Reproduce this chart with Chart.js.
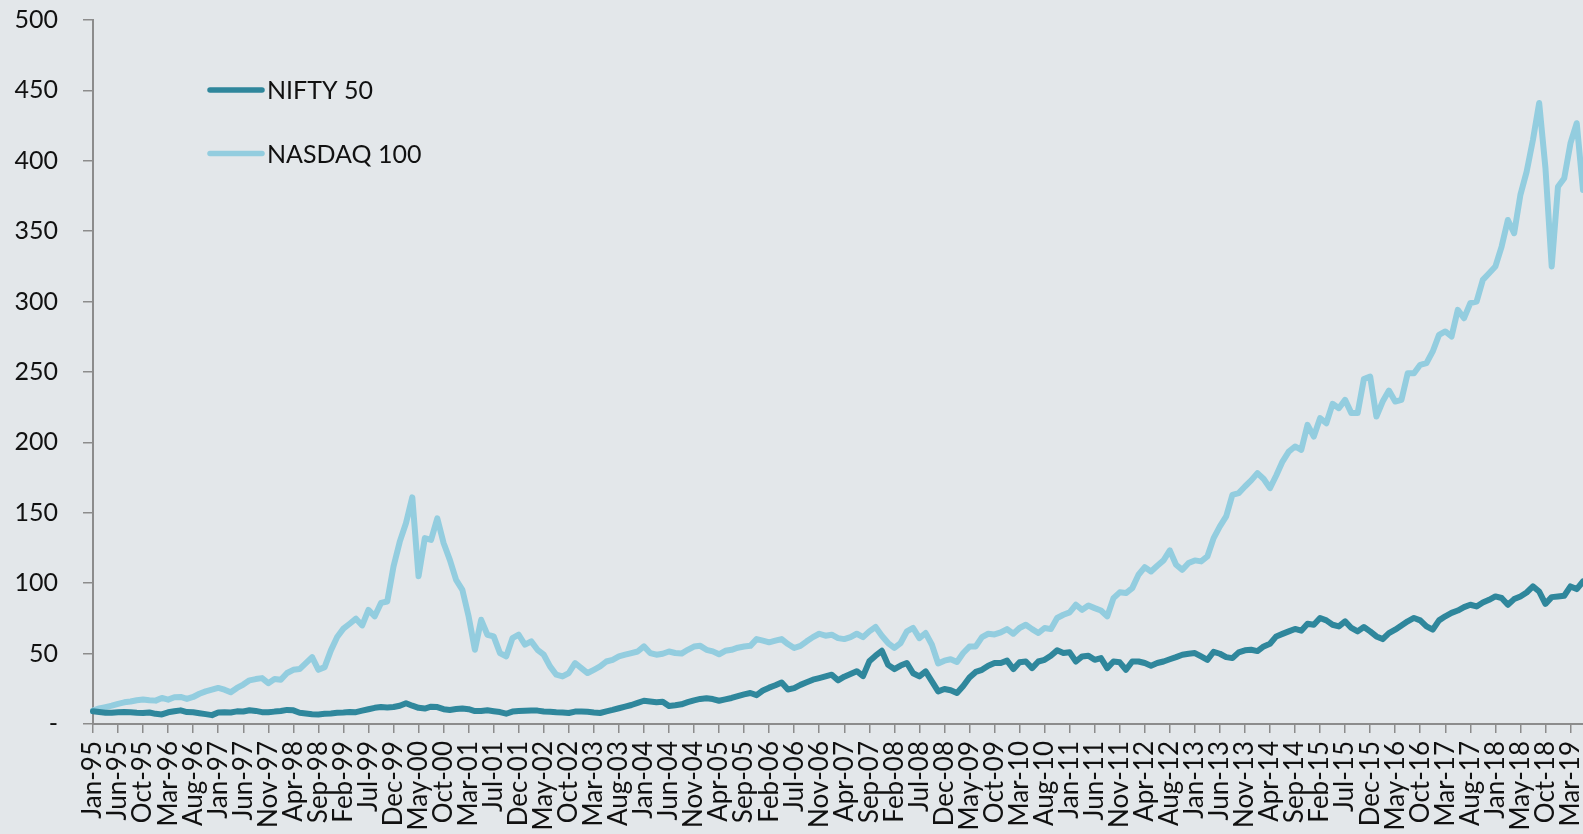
<!DOCTYPE html>
<html>
<head>
<meta charset="utf-8">
<title>NIFTY 50 vs NASDAQ 100</title>
<script src="https://cdn.jsdelivr.net/npm/chart.js"></script>
<style>
  html, body { margin: 0; padding: 0; background: #e3e7ea; }
  #chart { display: block; }
</style>
</head>
<body>
<canvas id="chart" width="1583" height="834"></canvas>
<script>
// One axis label every 4 data points
const tickLabels = [
  'Jan-95', 'Jun-95', 'Oct-95', 'Mar-96', 'Aug-96', 'Jan-97', 'Jun-97', 'Nov-97', 'Apr-98', 'Sep-98',
  'Feb-99', 'Jul-99', 'Dec-99', 'May-00', 'Oct-00', 'Mar-01', 'Jul-01', 'Dec-01', 'May-02', 'Oct-02',
  'Mar-03', 'Aug-03', 'Jan-04', 'Jun-04', 'Nov-04', 'Apr-05', 'Sep-05', 'Feb-06', 'Jul-06', 'Nov-06',
  'Apr-07', 'Sep-07', 'Feb-08', 'Jul-08', 'Dec-08', 'May-09', 'Oct-09', 'Mar-10', 'Aug-10', 'Jan-11',
  'Jun-11', 'Nov-11', 'Apr-12', 'Aug-12', 'Jan-13', 'Jun-13', 'Nov-13', 'Apr-14', 'Sep-14', 'Feb-15',
  'Jul-15', 'Dec-15', 'May-16', 'Oct-16', 'Mar-17', 'Aug-17', 'Jan-18', 'May-18', 'Oct-18', 'Mar-19'
];
const pointsPerTick = 4;

const nifty = [
  9, 8.5, 8, 8, 8.3, 8.6, 8.4, 8, 7.8, 8.2,
  7.2, 6.8, 8.3, 9, 9.7, 8.5, 8.3, 7.6, 7, 6.3,
  8.2, 8.3, 8.2, 9, 8.9, 9.8, 9.3, 8.4, 8.3, 8.8,
  9.2, 10, 9.7, 8, 7.5, 7, 6.8, 7.2, 7.5, 8,
  8.2, 8.5, 8.4, 9.5, 10.5, 11.5, 12, 11.8,
  12.1, 13, 14.8, 13, 11.5, 11, 12.3, 12, 10.5, 10,
  10.6, 11, 10.5, 9.2, 9.3, 9.7, 9.1, 8.5, 7.3, 8.8,
  9.2, 9.4, 9.6, 9.5, 8.9, 8.7, 8.4, 8.2, 7.8, 8.8,
  8.9, 8.7, 8.2, 7.8, 9, 10, 11.2, 12.3, 13.5, 15,
  16.5, 16, 15.5, 15.8, 12.8, 13.3, 14,
  15.5, 16.8, 17.8, 18.3, 17.7, 16.5, 17.5, 18.5, 19.8, 21,
  22, 20.5, 23.8, 25.8, 27.5, 29.5, 24.5, 25.5, 27.8, 29.6,
  31.5, 32.6, 33.8, 35, 31, 33.6, 35.5, 37.5, 34, 44.5,
  48.5, 52, 42, 39, 41.5, 43.3, 36, 33.8, 37.4, 30.3,
  23.2, 24.9, 24, 22, 27, 33,
  37, 38.5, 41.4, 43.3, 43.3, 45, 39, 43.8, 44.4, 39.7,
  44.4, 45.6, 48.5, 52.3, 50.4, 50.9, 44.4, 48, 48.5, 45.6,
  46.8, 39.7, 44.4, 43.8, 38.5, 44.4, 44.4, 43.3, 41.4, 43.3,
  44.4, 46, 47.5, 49.2, 49.9, 50.4, 48, 45.6, 51.3, 49.9,
  47.5, 46.8, 50.9, 52.3, 52.7, 51.8,
  55.1, 57, 62.2, 64, 65.8, 67.5, 66.3, 71.2, 70.5, 75.3,
  73.6, 70.5, 69.3, 72.9, 68.2, 65.8, 68.9, 65.8, 62.2, 60.3,
  64.6, 67, 69.9, 72.9, 75.3, 73.6, 69.3, 67, 73.6, 76.5,
  78.9, 80.6, 83, 84.7, 83.5, 86.3, 88.2, 90.6, 89.5, 84.7,
  88.7, 90.6, 93.4, 97.7, 94.1, 85.3, 90.1, 90.6, 91.1, 97.7,
  95.8, 101.2
];

const nasdaq = [
  9.5, 11.1, 12, 13, 14.3, 15.4, 16, 16.9, 17.4, 16.9,
  16.6, 18.5, 17.3, 19, 19.2, 17.8, 19.2, 21.5, 23.2, 24.4,
  25.6, 24.4, 22.5, 25.6, 28, 31, 31.9, 32.6, 29, 31.9,
  31.4, 36.2, 38.5, 39, 43.3, 47.5, 38.5, 40.4, 52.3, 61.8,
  67.7, 71.2, 74.8, 70, 81, 76.5, 86, 87,
  111.9, 129.5, 142.7, 161, 105, 132, 130.8, 146, 128.5, 116.6,
  102.4, 95.3, 76.4, 52.7, 74, 63.4, 62.2, 50.4, 48, 61,
  63.4, 56.3, 58.7, 52.7, 49.2, 40.9, 35, 33.8, 36.2, 43.3,
  39.7, 36.2, 38.5, 40.9, 44.4, 45.6, 48, 49.2, 50.4, 51.5,
  55.1, 50.4, 49.2, 49.9, 51.5, 50.4, 50,
  52.7, 55, 55.5, 52.7, 51.6, 49.5, 52, 52.7, 54.2, 55,
  55.5, 60.3, 59.2, 58, 59.2, 60.3, 56.8, 54, 55.5, 58.7,
  61.7, 64.1, 62.7, 63.4, 61, 60.3, 61.7, 64.1, 61.7, 65.8,
  68.9, 62.7, 57.5, 54, 57.5, 65.8, 68.2, 61, 64.6, 56.3,
  43, 45, 46, 44, 50.4, 55,
  55.1, 61.7, 64.1, 63.6, 65, 67.4, 64.1, 68.2, 70.5, 67.4,
  64.6, 68.2, 67.4, 75.3, 77.6, 79.3, 84.7, 81.1, 84.2, 82.3,
  80.6, 76.4, 89.4, 93.5, 93, 96.5, 106, 111.4, 108.3, 112.4,
  116.2, 123.3, 113.1, 109.5, 114.3, 116.2, 115.5, 119, 132, 140.3,
  147.4, 162.8, 164, 168.7, 173, 178.2,
  174, 167.5, 176.5, 186.4, 193.5, 197.1, 194.7, 212.5, 204.2, 217.2,
  213.6, 227.4, 224.3, 230.2, 220.8, 220.8, 245, 246.8, 218.4, 229,
  236.8, 229, 230.2, 249.1, 249.1, 255.1, 256.3, 264.6, 276.4, 278.8,
  275.2, 294.1, 288.2, 298.9, 300, 315.4, 320.1, 324.9, 339.1, 358,
  348.6, 375.8, 392.3, 414.8, 441, 395, 325, 381.6, 387.6, 412.5,
  426.7, 379.3
];

const labels = nifty.map((_, i) => (i % pointsPerTick === 0 ? tickLabels[i / pointsPerTick] || '' : ''));

const axisGrey = '#8c8c8c';
const textColor = '#111111';

// Legend drawn inside the plot, top left
const insideLegend = {
  id: 'insideLegend',
  afterDraw(chart) {
    const ctx = chart.ctx;
    ctx.save();
    ctx.font = '25px Lato';
    ctx.textBaseline = 'middle';
    ctx.fillStyle = textColor;
    ctx.lineCap = 'round';
    chart.data.datasets.forEach((ds, i) => {
      const y = 90 + i * 63.5;
      ctx.strokeStyle = ds.borderColor;
      ctx.lineWidth = 5.5;
      ctx.beginPath();
      ctx.moveTo(210, y);
      ctx.lineTo(262, y);
      ctx.stroke();
      ctx.fillText(ds.label, 267, y + 1);
    });
    ctx.restore();
  }
};

new Chart(document.getElementById('chart'), {
  type: 'line',
  data: {
    labels: labels,
    datasets: [
      {
        label: 'NIFTY 50',
        data: nifty,
        borderColor: '#2f879c',
        borderWidth: 6,
        pointRadius: 0,
        borderJoinStyle: 'round',
        borderCapStyle: 'round',
        tension: 0
      },
      {
        label: 'NASDAQ 100',
        data: nasdaq,
        borderColor: '#93cddf',
        borderWidth: 6,
        pointRadius: 0,
        borderJoinStyle: 'round',
        borderCapStyle: 'round',
        tension: 0
      }
    ]
  },
  options: {
    responsive: false,
    animation: false,
    layout: { padding: { top: 20, left: 0, right: 0, bottom: 0 } },
    plugins: {
      legend: { display: false },
      tooltip: { enabled: false }
    },
    scales: {
      x: {
        offset: false,
        border: { display: true, color: axisGrey, width: 2 },
        grid: {
          drawOnChartArea: false,
          drawTicks: true,
          tickLength: 9,
          lineWidth: 1.5,
          color: ctx => (ctx.index % pointsPerTick === 0 ? axisGrey : 'rgba(0,0,0,0)')
        },
        ticks: {
          autoSkip: false,
          minRotation: 90,
          maxRotation: 90,
          padding: 8,
          color: textColor,
          font: { family: 'Lato', size: 26 }
        },
        afterFit: scale => {
          scale.height = 110;
          scale.paddingLeft = 0;
          scale.paddingRight = 0;
        }
      },
      y: {
        min: 0,
        max: 500,
        border: { display: true, color: axisGrey, width: 2 },
        grid: {
          drawOnChartArea: false,
          drawTicks: true,
          tickLength: 10,
          lineWidth: 1.5,
          color: axisGrey
        },
        ticks: {
          stepSize: 50,
          padding: 25,
          color: textColor,
          font: { family: 'Lato', size: 25 },
          callback: v => (v === 0 ? '-' : v)
        },
        afterFit: scale => {
          scale.width = 93;
          scale.paddingTop = 0;
          scale.paddingBottom = 0;
        }
      }
    }
  },
  plugins: [insideLegend]
});
</script>
</body>
</html>
